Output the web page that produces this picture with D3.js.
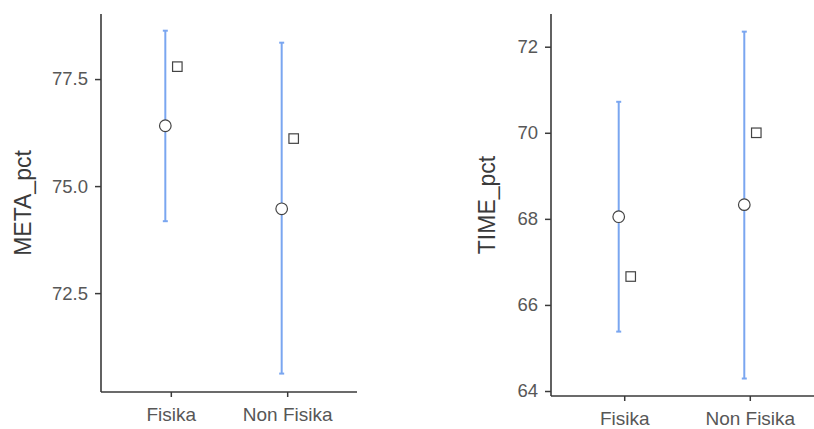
<!DOCTYPE html>
<html>
<head>
<meta charset="utf-8">
<script src="https://cdn.jsdelivr.net/npm/d3@7"></script>
<style>
html,body{margin:0;padding:0;background:#fff;}
svg{display:block;}
text{font-family:"Liberation Sans",Arial,sans-serif;}
</style>
</head>
<body>
<svg id="chart" width="814" height="429"></svg>
<script>
const categories = ["Fisika", "Non Fisika"];

const metaMean   = [76.41, 74.47];
const metaLower  = [74.18, 70.62];
const metaUpper  = [78.63, 78.35];
const metaMedian = [77.79, 76.11];
const metaTicks  = [72.5, 75.0, 77.5];

const timeMean   = [68.05, 68.33];
const timeLower  = [65.38, 64.29];
const timeUpper  = [70.72, 72.35];
const timeMedian = [66.66, 70.00];
const timeTicks  = [64, 66, 68, 70, 72];

const svg = d3.select("#chart");
const textColor = "#575757";
const axisColor = "#3a3a3a";
const barColor = "#7aa6f0";

function panel(cfg) {
  const g = svg.append("g");
  const y = d3.scaleLinear().domain(cfg.yDomain).range([cfg.bottom, cfg.top]);
  const x = d3.scalePoint().domain(categories).range([cfg.left, cfg.right]).padding(cfg.pad);

  // y axis
  const yAxis = d3.axisLeft(y).tickValues(cfg.ticks).tickFormat(cfg.fmt).tickSize(6).tickPadding(7);
  const ya = g.append("g").attr("transform", `translate(${cfg.left},0)`).call(yAxis);
  ya.select(".domain").remove();
  ya.selectAll(".tick line").attr("stroke", axisColor).attr("stroke-width", 1.5);
  ya.selectAll(".tick text").attr("fill", textColor).attr("font-size", 18.5)
    .attr("font-family", "'Liberation Sans', Arial, sans-serif");
  g.append("line").attr("x1", cfg.left).attr("x2", cfg.left)
    .attr("y1", cfg.top).attr("y2", cfg.bottom)
    .attr("stroke", axisColor).attr("stroke-width", 1.6);

  // x axis
  const xAxis = d3.axisBottom(x).tickSize(5).tickPadding(11);
  const xa = g.append("g").attr("transform", `translate(0,${cfg.bottom})`).call(xAxis);
  xa.select(".domain").remove();
  xa.selectAll(".tick line").attr("stroke", axisColor).attr("stroke-width", 1.5);
  xa.selectAll(".tick text").attr("fill", textColor).attr("font-size", 19)
    .attr("font-family", "'Liberation Sans', Arial, sans-serif");
  g.append("line").attr("x1", cfg.left).attr("x2", cfg.right)
    .attr("y1", cfg.bottom).attr("y2", cfg.bottom)
    .attr("stroke", axisColor).attr("stroke-width", 1.6);

  // y title
  g.append("text")
    .attr("transform", `translate(${cfg.titleX},${cfg.titleY}) rotate(-90)`)
    .attr("text-anchor", "middle")
    .attr("fill", "#3a3a3a")
    .attr("font-size", 23)
    .text(cfg.title);

  const idx = d3.range(categories.length);
  const cOff = -5.5, sOff = 6.5;

  // error bars
  g.selectAll(".eb").data(idx).join("line")
    .attr("x1", i => x(categories[i]) + cOff).attr("x2", i => x(categories[i]) + cOff)
    .attr("y1", i => y(cfg.lower[i])).attr("y2", i => y(cfg.upper[i]))
    .attr("stroke", barColor).attr("stroke-width", 2);
  ["upper", "lower"].forEach(k => {
    g.selectAll(".cap" + k).data(idx).join("line")
      .attr("x1", i => x(categories[i]) + cOff - 2.5).attr("x2", i => x(categories[i]) + cOff + 2.5)
      .attr("y1", i => y(cfg[k][i])).attr("y2", i => y(cfg[k][i]))
      .attr("stroke", barColor).attr("stroke-width", 2);
  });

  // mean circles
  g.selectAll(".mean").data(idx).join("circle")
    .attr("cx", i => x(categories[i]) + cOff)
    .attr("cy", i => y(cfg.mean[i]))
    .attr("r", 5.8)
    .attr("fill", "#fff").attr("stroke", "#444").attr("stroke-width", 1.2);

  // median squares
  const s = 9.5;
  g.selectAll(".med").data(idx).join("rect")
    .attr("x", i => x(categories[i]) + sOff - s / 2)
    .attr("y", i => y(cfg.median[i]) - s / 2)
    .attr("width", s).attr("height", s)
    .attr("fill", "#fff").attr("stroke", "#444").attr("stroke-width", 1.2);
}

panel({
  left: 101, right: 357, top: 14, bottom: 392, pad: 0.6,
  yDomain: [70.19, 79.02], ticks: metaTicks, fmt: d3.format(".1f"),
  mean: metaMean, lower: metaLower, upper: metaUpper, median: metaMedian,
  title: "META_pct", titleX: 31, titleY: 203
});

panel({
  left: 551, right: 823, top: 14, bottom: 396, pad: 0.583,
  yDomain: [63.884, 72.76], ticks: timeTicks, fmt: d3.format("d"),
  mean: timeMean, lower: timeLower, upper: timeUpper, median: timeMedian,
  title: "TIME_pct", titleX: 495, titleY: 205
});
</script>
</body>
</html>
